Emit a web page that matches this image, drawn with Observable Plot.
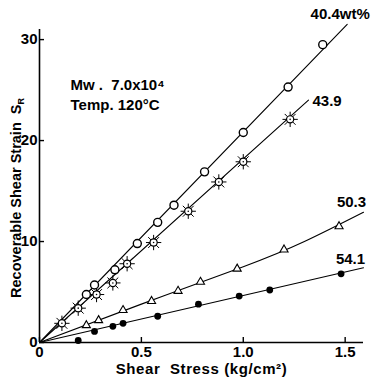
<!DOCTYPE html>
<html>
<head>
<meta charset="utf-8">
<script src="https://cdn.jsdelivr.net/npm/d3@7"></script>
<script src="https://cdn.jsdelivr.net/npm/@observablehq/plot@0.6"></script>
<style>
  body { margin: 0; background: #fff; }
  svg { font-family: "Liberation Sans", Arial, sans-serif; }
</style>
</head>
<body>
<div id="chart"></div>
<script>
// Series labels (wt% of polymer)
const seriesLabels = ["40.4wt%", "43.9", "50.3", "54.1"];

// Measured points: shear stress (kg/cm^2) and recoverable shear strain
const stress404 = [0.23, 0.27, 0.37, 0.48, 0.58, 0.66, 0.81, 1.00, 1.22, 1.39];
const strain404 = [4.75, 5.7, 7.2, 9.8, 11.9, 13.6, 16.9, 20.8, 25.3, 29.5];

const stress439 = [0.11, 0.19, 0.28, 0.36, 0.43, 0.56, 0.73, 0.88, 1.00, 1.23];
const strain439 = [1.9, 3.4, 4.75, 5.9, 7.8, 9.9, 13.0, 15.9, 17.9, 22.1];

const stress503 = [0.23, 0.29, 0.41, 0.55, 0.68, 0.79, 0.97, 1.20, 1.47];
const strain503 = [1.7, 2.2, 3.2, 4.1, 5.1, 6.0, 7.3, 9.2, 11.5];

const stress541 = [0.19, 0.27, 0.36, 0.41, 0.58, 0.78, 0.98, 1.13, 1.48];
const strain541 = [0.2, 1.1, 1.6, 1.9, 2.6, 3.8, 4.6, 5.2, 6.8];

// Drawn curves (knots)
const curve404X = [0, 1.51], curve404Y = [0, 31.5];
const curve439X = [0, 1.32], curve439Y = [0, 24.0];
const curve503X = [0, 0.5, 1.0, 1.3, 1.59], curve503Y = [0, 3.8, 7.5, 10.0, 12.9];
const curve541X = [0, 1.59], curve541Y = [0, 7.4];

const xTicks = [0, 0.5, 1.0, 1.5];
const yTicks = [0, 10, 20, 30];
const infoLines = ["Mw .  7.0x10⁴", "Temp. 120°C"];

const pts = (xs, ys) => xs.map((x, i) => ({x, y: ys[i]}));
const p404 = pts(stress404, strain404);
const p439 = pts(stress439, strain439);
const p503 = pts(stress503, strain503);
const p541 = pts(stress541, strain541);
const c404 = pts(curve404X, curve404Y);
const c439 = pts(curve439X, curve439Y);
const c503 = pts(curve503X, curve503Y);
const c541 = pts(curve541X, curve541Y);

const last = a => [a[a.length - 1]];
const fs = 15;

const chart = Plot.plot({
  width: 375,
  height: 385,
  marginLeft: 39,
  marginRight: 12,
  marginTop: 29,
  marginBottom: 43,
  style: {background: "#fff", color: "#000", fontFamily: "Liberation Sans, Arial, sans-serif"},
  x: {domain: [0, 1.59]},
  y: {domain: [0, 31]},
  marks: [
    Plot.ruleX([0], {stroke: "#000", strokeWidth: 1.6}),
    Plot.ruleY([0], {stroke: "#000", strokeWidth: 1.6}),
    Plot.axisX({ticks: xTicks, tickSize: -5, tickPadding: 9, tickFormat: d => d === 0 ? "0" : d.toFixed(1),
      fontSize: fs, fontWeight: "bold", label: null, strokeWidth: 1.4}),
    Plot.axisY({ticks: yTicks, tickSize: -5, tickPadding: 7, fontSize: fs, fontWeight: "bold", label: null, strokeWidth: 1.4}),
    Plot.line(c404, {x: "x", y: "y", stroke: "#000", strokeWidth: 1.1}),
    Plot.line(c439, {x: "x", y: "y", stroke: "#000", strokeWidth: 1.1}),
    Plot.line(c503, {x: "x", y: "y", stroke: "#000", strokeWidth: 1.1, curve: "natural"}),
    Plot.line(c541, {x: "x", y: "y", stroke: "#000", strokeWidth: 1.1}),
    // 43.9: circle with spikes
    Plot.dot(p439, {x: "x", y: "y", symbol: "plus", r: 5, stroke: "#000", strokeWidth: 1}),
    Plot.dot(p439, {x: "x", y: "y", symbol: "times", r: 5, stroke: "#000", strokeWidth: 1}),
    Plot.dot(p439, {x: "x", y: "y", symbol: "circle", r: 3.6, fill: "#fff", stroke: "#000", strokeWidth: 1.2}),
    Plot.dot(p439, {x: "x", y: "y", r: 0.8, fill: "#000"}),
    // 40.4: open circles
    Plot.dot(p404, {x: "x", y: "y", r: 4, fill: "#fff", stroke: "#000", strokeWidth: 1.4}),
    // 50.3: open triangles
    Plot.dot(p503, {x: "x", y: "y", symbol: "triangle", r: 3, fill: "#fff", stroke: "#000", strokeWidth: 1.1}),
    // 54.1: filled circles
    Plot.dot(p541, {x: "x", y: "y", r: 3.4, fill: "#000"}),
    // series labels
    Plot.text(last(c404), {x: "x", y: "y", text: () => seriesLabels[0], dx: -7, dy: -10, fontSize: fs, fontWeight: "bold"}),
    Plot.text(last(c439), {x: "x", y: "y", text: () => seriesLabels[1], dx: 4, dy: 1, textAnchor: "start", fontSize: fs, fontWeight: "bold"}),
    Plot.text(last(c503), {x: "x", y: "y", text: () => seriesLabels[2], dx: -12, dy: -10, fontSize: fs, fontWeight: "bold"}),
    Plot.text(last(c541), {x: "x", y: "y", text: () => seriesLabels[3], dx: -13, dy: -9, fontSize: fs, fontWeight: "bold"}),
    // info text
    Plot.text([infoLines[0]], {text: d => d, frameAnchor: "top-left", dx: 31, dy: 56, textAnchor: "start", lineAnchor: "middle",
      fontSize: fs, fontWeight: "bold"}),
    Plot.text([infoLines[1]], {text: d => d, frameAnchor: "top-left", dx: 31, dy: 76, textAnchor: "start", lineAnchor: "middle",
      fontSize: fs, fontWeight: "bold"}),
    // axis labels
    Plot.text(["Shear  Stress (kg/cm²)"], {text: d => d, frameAnchor: "bottom", dy: 27, lineAnchor: "middle", fontSize: 15, fontWeight: "bold", className: "xlab"}),
    Plot.text(["Recoverable Shear Strain  S"], {text: d => d, frameAnchor: "left", dx: -23, dy: 12, rotate: -90, textAnchor: "middle",
      lineAnchor: "middle", fontSize: 14.5, fontWeight: "bold", className: "ylab"})
  ]
});

const yl = d3.select(chart).select(".ylab text");
if (!yl.empty()) {
  yl.append("tspan").attr("font-size", 9).attr("dy", "0.3em").text("R");
}
d3.select(chart).select(".xlab text").attr("letter-spacing", "0.6px");

document.getElementById("chart").appendChild(chart);
</script>
</body>
</html>
